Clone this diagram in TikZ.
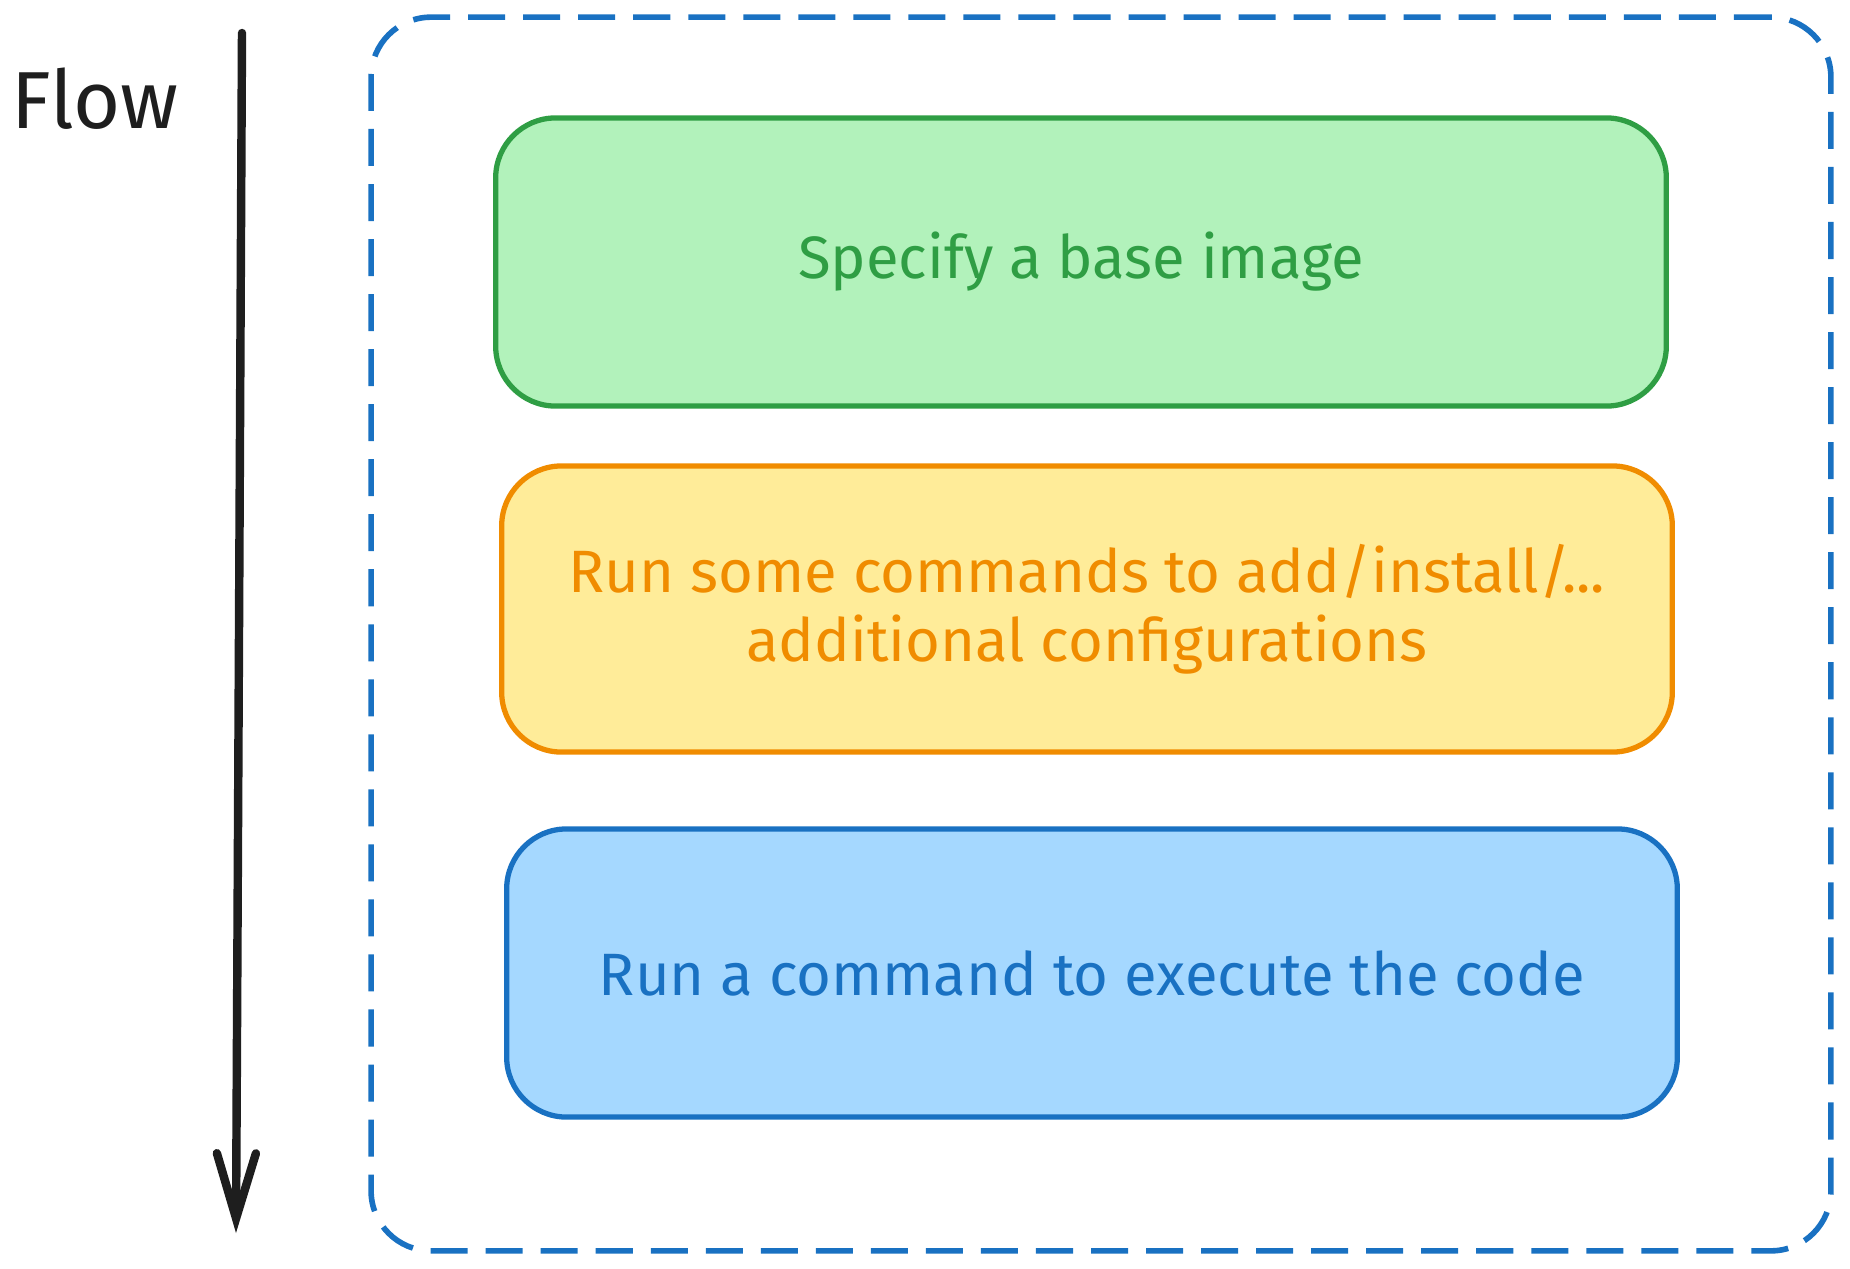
\documentclass[tikz,border=0pt]{standalone}
\usepackage{fontspec}
\setmainfont{Fira Sans}
\usetikzlibrary{arrows.meta,positioning}
\definecolor{grfill}{HTML}{B2F2BB}
\definecolor{grline}{HTML}{2F9E44}
\definecolor{yefill}{HTML}{FFEC99}
\definecolor{yeline}{HTML}{F08C00}
\definecolor{blfill}{HTML}{A5D8FF}
\definecolor{blline}{HTML}{1971C2}
\definecolor{ink}{HTML}{1E1E1E}
\begin{document}
\begin{tikzpicture}[x=0.01cm,y=-0.01cm,
			box/.style={draw,line width=1.5pt,rounded corners=6mm,minimum width=11.7cm,minimum height=2.88cm,align=center,inner sep=0pt,font=\fontsize{17}{19.5}\selectfont},
			frame/.style={draw=blline,line width=1.6pt,rounded corners=6mm,dash pattern=on 3.7mm off 1.8mm,minimum width=14.59cm,minimum height=12.33cm,inner sep=0pt}]
			\useasboundingbox (0,0) rectangle (1850,1269);
			\node [frame] (group) at (1101,634) {};
			\node [box,fill=grfill,draw=grline,text=grline] (base) at (1081,262) {Specify a base image};
			\node [box,fill=yefill,draw=yeline,text=yeline,minimum height=2.86cm] (cmds) at (1087,609) {Run some commands to add/install/...\\additional configurations};
			\node [box,fill=blfill,draw=blline,text=blline] (exec) at (1092,973) {Run a command to execute the code};
			\node [text=ink,font=\fontsize{23}{28}\selectfont] (flow) at (95,99) {Flow};
			\coordinate (top) at (242,33);
			\coordinate (bottom) at (236,1233);
			\draw [ink,line width=2.4pt,line cap=round,-{Straight Barb[length=6.5mm,width=3.9mm,line cap=round]}] (top) -- (bottom);
		\end{tikzpicture}
\end{document}
